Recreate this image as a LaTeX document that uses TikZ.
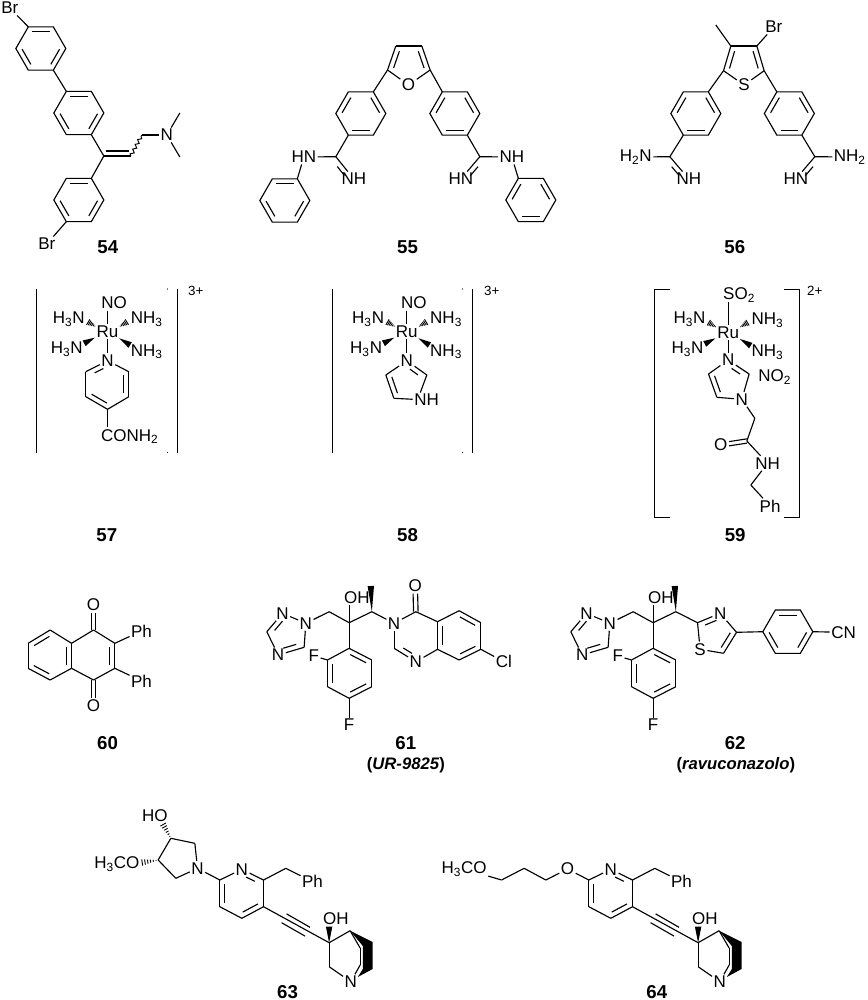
\documentclass[tikz,border=0pt]{standalone}
\usepackage{fontspec}
\setmainfont{Liberation Sans}
\usetikzlibrary{calc,decorations.pathmorphing}
\tikzstyle{atom}=[font=\fontsize{12.75}{14}\selectfont,inner sep=1pt]
\tikzstyle{bond}=[draw,line width=.85pt]
\tikzstyle{molno}=[font=\fontsize{14}{16}\selectfont\bfseries,inner sep=0pt]
\tikzstyle{molname}=[font=\fontsize{12.5}{14}\selectfont\bfseries\itshape,inner sep=0pt]
\tikzstyle{charge}=[font=\fontsize{10}{12}\selectfont,inner sep=0pt]
\tikzstyle{wavy}=[draw,line width=.7pt,decorate,decoration={snake,amplitude=1.2pt,segment length=4pt}]
% inner line of a double bond, on the right of a->b
\newcommand{\dbl}[3][.15]{\path[bond] ($(#2)!#1!(#3)!-3.8pt!90:(#3)$) -- ($(#3)!#1!(#2)!3.8pt!90:(#2)$);}
% double bond with two lines side by side
\newcommand{\pdbl}[4]{\path[bond,transform canvas={xshift=#3,yshift=#4}] (#1) -- (#2);
  \path[bond,transform canvas={xshift=-#3,yshift=-#4}] (#1) -- (#2);}
% wedges, narrow end at the first point
\newcommand{\wdg}[2]{\fill ($(#2)!2.4pt!90:(#1)$) -- ($(#2)!2.4pt!-90:(#1)$) -- (#1) -- cycle;}
\newcommand{\hsh}[2]{\foreach \t in {.12,.28,.44,.6,.76,.92} {
    \pgfmathsetmacro{\w}{\t*2.6}
    \draw[line width=.7pt] ($(#1)!\t!(#2)!\w pt!90:(#1)$) -- ($(#1)!\t!(#2)!\w pt!-90:(#1)$);}}
% bonds between named atoms
\newcommand{\bonds}[1]{\foreach \from/\into in {#1} {\path[bond] (\from) -- (\into);}}
% flat topped hexagon, corners 1..6 clockwise from top left
\newcommand{\ring}[3]{\foreach \k/\a in {1/240,2/300,3/0,4/60,5/120,6/180} {
    \coordinate (#1\k) at ({#2+25*cos(\a)},{#3+25*sin(\a)});}
  \path[bond] (#11) -- (#12) -- (#13) -- (#14) -- (#15) -- (#16) -- cycle;}
\newcommand{\ringup}[3]{\ring{#1}{#2}{#3}
  \foreach \p/\q in {1/2,3/4,5/6} {\dbl{#1\p}{#1\q}}}
\newcommand{\ringdown}[3]{\ring{#1}{#2}{#3}
  \foreach \p/\q in {2/3,4/5,6/1} {\dbl{#1\p}{#1\q}}}
\newcommand{\atoms}[1]{\foreach \pos/\name/\txt in {#1} {\node[atom] (\name) at \pos {\txt};}}
\newcommand{\points}[1]{\foreach \pos/\name in {#1} {\node[coordinate] (\name) at \pos {};}}
% Ru with its four NH3
\newcommand{\rucore}[3]{\begin{scope}[shift={(#2,#3)}]
  \atoms{{(0,0)/#1ru/Ru},
      {(-38.7,-12.7)/#1ul/H\textsubscript{3}N}, {(39.3,-12.4)/#1ur/NH\textsubscript{3}},
      {(-40.7,17.3)/#1ll/H\textsubscript{3}N}, {(39.3,20)/#1lr/NH\textsubscript{3}}}
  \points{{(-11.7,-5)/#1ha}, {(-20,-10)/#1hb}, {(11.7,-5)/#1hc}, {(20,-10)/#1hd},
      {(-12.7,6)/#1wa}, {(-23.4,11.6)/#1wb}, {(11.6,6.6)/#1wc}, {(22.6,13.3)/#1wd}}
  \hsh{#1ha}{#1hb}
  \hsh{#1hc}{#1hd}
  \wdg{#1wa}{#1wb}
  \wdg{#1wc}{#1wd}
  \end{scope}}

\begin{document}
\begin{tikzpicture}[x=.75pt,y=-.75pt]
    \fill[white] (0,0) rectangle (866,1000);

    % 54
    \ringup{aa}{40}{48.5}
    \ringup{ab}{78}{113}
    \ringup{ac}{78}{200}
    \atoms{{(9,8)/abra/Br}, {(46,244)/abrb/Br}, {(166,135)/an/N}}
    \points{{(103,156)/ava}, {(130,156)/avb}, {(141,135)/avc}, {(179,113)/amea}, {(179,157)/ameb}}
    \bonds{abra/aa1, aa4/ab1, ab4/ava, ava/ac2, ac5/abrb, ava/avb, avc/an, an/amea, an/ameb}
    \dbl[.08]{avb}{ava}
    \path[wavy] (avb) -- (avc);
    \node[molno] (lab54) at (107,247) {54};

    % 55
    \ringdown{ba}{360}{113.5}
    \ringdown{bb}{454}{113.5}
    \ringup{bc}{284}{200.5}
    \ringdown{bd}{530}{200}
    \atoms{{(407.7,85)/bo/O}, {(303,157)/bhna/HN}, {(353,179)/bnha/NH},
           {(511,157)/bnhb/NH}, {(460,179)/bhnb/HN}}
    \points{{(395,46)/bfa}, {(421,46)/bfb}, {(429.3,70)/bfc}, {(386.7,70)/bfd},
            {(335,156.7)/bca}, {(479,156.7)/bcb}}
    \bonds{bfa/bfb, bfb/bfc, bfc/bo, bo/bfd, bfd/bfa, bfd/ba2, bfc/bb1,
           ba5/bca, bca/bhna, bca/bnha, bhna/bc2,
           bb4/bcb, bcb/bnhb, bcb/bhnb, bnhb/bd1}
    \dbl{bfd}{bfa}
    \dbl{bfb}{bfc}
    \dbl[.3]{bca}{bnha}
    \dbl[.3]{bhnb}{bcb}
    \node[molno] (lab55) at (406.7,247) {55};

    % 56
    \ringdown{ca}{695}{113.5}
    \ringdown{cb}{788.5}{113.5}
    \atoms{{(743.3,85)/cs/S}, {(773,27)/cbr/Br},
           {(635,157)/chna/H\textsubscript{2}N}, {(688,179)/cnha/NH},
           {(849,157)/cnhb/NH\textsubscript{2}}, {(795,179)/chnb/HN}}
    \points{{(730,46)/cfa}, {(756,46)/cfb}, {(763.3,70.7)/cfc}, {(722.7,70.7)/cfd},
            {(715,25)/cme}, {(669,156.7)/cca}, {(814,156.7)/ccb}}
    \bonds{cfa/cfb, cfb/cfc, cfc/cs, cs/cfd, cfd/cfa, cfa/cme, cfb/cbr,
           cfd/ca2, cfc/cb1, ca5/cca, cca/chna, cca/cnha,
           cb4/ccb, ccb/cnhb, ccb/chnb}
    \dbl{cfd}{cfa}
    \dbl{cfb}{cfc}
    \dbl[.3]{cca}{cnha}
    \dbl[.3]{chnb}{ccb}
    \node[molno] (lab56) at (734,247) {56};

    % 57
    \path[bond] (36,289) -- (36,452.7) (176.7,289) -- (176.7,452.7);
    \fill (166.7,289) circle (.6) (166.7,452.4) circle (.6);
    \node[charge] (chga) at (195,291) {3+};
    \rucore{d}{106.7}{331.7}
    \atoms{{(113.3,303)/dno/NO}, {(106.7,360.7)/dn/N}, {(129,436.5)/dco/CONH\textsubscript{2}}}
    \points{{(106.7,310.7)/dtop}, {(128,371.7)/dpa}, {(128,396.7)/dpb},
            {(106.7,409.3)/dpc}, {(85,396.7)/dpd}, {(85,371.7)/dpe}, {(106.7,427)/dcc}}
    \bonds{dtop/dru, dru/dn, dn/dpa, dpa/dpb, dpb/dpc, dpc/dpd, dpd/dpe, dpe/dn, dpc/dcc}
    \dbl{dpa}{dpb}
    \dbl{dpc}{dpd}
    \dbl[.3]{dpe}{dn}
    \node[molno] (lab57) at (106,535) {57};

    % 58
    \path[bond] (331.7,289) -- (331.7,452.7) (472,289) -- (472,452.7);
    \fill (461.7,289) circle (.6) (461.7,452.4) circle (.6);
    \node[charge] (chgb) at (491,291) {3+};
    \rucore{e}{406}{331.7}
    \atoms{{(413,303)/eno/NO}, {(406,360.7)/en/N}, {(425.7,400)/enh/NH}}
    \points{{(406,310.7)/etop}, {(426,375)/eca}, {(393,398.3)/ecb}, {(385,375)/ecc}}
    \bonds{etop/eru, eru/en, en/eca, eca/enh.130, enh/ecb, ecb/ecc, ecc/en}
    \dbl[.3]{en}{eca}
    \dbl{ecb}{ecc}
    \node[molno] (lab58) at (406.7,535) {58};

    % 59
    \path[bond] (669.3,289.3) -- (654,289.3) -- (654,517.3) -- (669.3,517.3)
                (783.3,289.3) -- (798.3,289.3) -- (798.3,517.3) -- (783.3,517.3);
    \node[charge] (chgc) at (814,291) {2+};
    \rucore{f}{727.3}{332.3}
    \atoms{{(738.3,295)/fso/SO\textsubscript{2}}, {(727.3,360)/fn/N},
           {(741,399.3)/fnb/N}, {(774,376.7)/fno/NO\textsubscript{2}},
           {(720,445)/fo/O}, {(766.7,463.3)/fnh/NH}, {(769.3,506)/fph/Ph}}
    \points{{(727.3,302)/ftop}, {(748.3,374)/fca}, {(716,397.3)/fcb}, {(707.7,374)/fcc},
            {(754,418.3)/fcd}, {(746,441)/fce}, {(750,485)/fcf}}
    \bonds{ftop/fru, fru/fn, fn/fca, fca/fnb, fnb/fcb, fcb/fcc, fcc/fn,
           fnb/fcd, fcd/fce, fce/fnh, fnh/fcf, fcf/fph}
    \dbl[.3]{fn}{fca}
    \dbl{fcb}{fcc}
    \pdbl{fo}{fce}{0pt}{1.6pt}
    \node[molno] (lab59) at (734.3,535) {59};

    % 60
    \atoms{{(92.7,605)/goa/O}, {(92.7,706)/gob/O}, {(140.7,631)/gpha/Ph}, {(140.7,681)/gphb/Ph}}
    \points{{(27.3,643.3)/gaa}, {(49.3,630)/gab}, {(70.7,643.3)/gac},
            {(70.7,668.3)/gad}, {(49.3,680)/gae}, {(27.3,668.3)/gaf},
            {(92.7,630)/gba}, {(114,643.3)/gbb}, {(114,668.3)/gbc}, {(92.7,680)/gbd}}
    \bonds{gaa/gab, gab/gac, gac/gad, gad/gae, gae/gaf, gaf/gaa,
           gac/gba, gba/gbb, gbb/gbc, gbc/gbd, gbd/gad, gbb/gpha, gbc/gphb}
    \dbl{gaa}{gab}
    \dbl{gac}{gad}
    \dbl{gae}{gaf}
    \dbl{gbb}{gbc}
    \pdbl{gba}{goa}{1.7pt}{0pt}
    \pdbl{gbd}{gob}{1.7pt}{0pt}
    \node[molno] (lab60) at (106.7,742.7) {60};

    % 61 and 62 share the triazole side
    \foreach \dx/\m in {0/h,304/i} {
        \begin{scope}[shift={(\dx,0)}]
        \atoms{{(281.7,613.3)/\m na/N}, {(305,623.3)/\m nb/N}, {(277.3,655)/\m nc/N},
               {(356,598)/\m oh/OH}, {(313,656)/\m fa/F}, {(348.3,725)/\m fb/F}}
        \points{{(303.3,647.3)/\m ca}, {(266,631.7)/\m cb}, {(328.3,611.7)/\m cc},
                {(348.3,622.7)/\m cd}, {(348.3,605)/\m ce}, {(371,611.7)/\m cf}, {(370,586)/\m me},
                {(348.3,648.3)/\m pa}, {(371,660)/\m pb}, {(371,686.7)/\m pc},
                {(348.3,698.3)/\m pd}, {(326.7,686.7)/\m pe}, {(326.7,660)/\m pf}}
        \bonds{\m na/\m nb, \m nb/\m ca, \m ca/\m nc, \m nc/\m cb, \m cb/\m na, \m nb/\m cc,
               \m cc/\m cd, \m cd/\m ce, \m cd/\m cf, \m cd/\m pa, \m pa/\m pb, \m pb/\m pc,
               \m pc/\m pd, \m pd/\m pe, \m pe/\m pf, \m pf/\m pa, \m pf/\m fa, \m pd/\m fb}
        \dbl[.25]{\m ca}{\m nc}
        \dbl[.25]{\m cb}{\m na}
        \dbl{\m pa}{\m pb}
        \dbl{\m pc}{\m pd}
        \dbl{\m pe}{\m pf}
        \wdg{\m cf}{\m me}
        \end{scope}
    }

    % 61
    \atoms{{(393.3,623.3)/hnd/N}, {(414.3,586)/ho/O}, {(415,661.7)/hne/N}, {(503,661.7)/hcl/Cl}}
    \points{{(415,611.7)/hqa}, {(436.7,621.7)/hqb}, {(458.3,610.7)/hqc}, {(480,622.7)/hqd},
            {(480,649.3)/hqe}, {(458.3,660)/hqf}, {(436.7,649.3)/hqg}, {(393.3,648.3)/hqh}}
    \bonds{hcf/hnd, hnd/hqa, hqa/hqb, hqb/hqc, hqc/hqd, hqd/hqe, hqe/hqf, hqf/hqg,
           hqg/hqb, hqg/hne, hne/hqh, hqh/hnd, hqe/hcl}
    \dbl{hqc}{hqd}
    \dbl{hqe}{hqf}
    \dbl{hqg}{hqb}
    \dbl[.3]{hne}{hqh}
    \pdbl{hqa}{ho}{1.7pt}{0pt}
    \node[molno] (lab61) at (405,742.7) {61};
    \node[molname] (namea) at (405,765) {\textup{(}UR-9825\textup{)}};

    % 62
    \atoms{{(719.3,613.3)/ind/N}, {(699.3,649.3)/isu/S}, {(842.7,632.3)/icn/CN}}
    \points{{(696.7,622.7)/ita}, {(735.7,632.3)/itb}, {(722.7,653.3)/itc}}
    \ringup{ir}{787}{631.7}
    \bonds{icf/ita, ita/ind, ind/itb, itb/itc, itc/isu, isu/ita, itb/ir6, ir3/icn}
    \dbl[.25]{ita}{ind}
    \dbl{itb}{itc}
    \node[molno] (lab62) at (734.3,742.7) {62};
    \node[molname] (nameb) at (735,765) {\textup{(}ravuconazolo\textup{)}};

    % 63 and 64 share the pyridine and quinuclidine side
    \foreach \dx/\m in {0/j,369/k} {
        \begin{scope}[shift={(\dx,0)}]
        \atoms{{(241,869.3)/\m py/N}, {(311.7,881.7)/\m ph/Ph},
               {(335,919)/\m oh/OH}, {(350,981.7)/\m qn/N}}
        \points{{(219,880)/\m ca}, {(262.7,880)/\m cb}, {(262.7,906.7)/\m cc}, {(241,918.3)/\m cd},
                {(219,906.7)/\m ce}, {(285,868.3)/\m cf}, {(283.3,918.3)/\m ta}, {(306.7,931.7)/\m tb},
                {(328.3,942.7)/\m qa}, {(328.3,926.7)/\m qb}, {(349.3,930.7)/\m qc}, {(328.3,966.7)/\m qd},
                {(359.3,948)/\m qe}, {(359.3,965)/\m qf}}
        \bonds{\m ca/\m py, \m py/\m cb, \m cb/\m cc, \m cc/\m cd, \m cd/\m ce, \m ce/\m ca,
               \m cb/\m cf, \m cf/\m ph, \m cc/\m qa, \m qa/\m qc, \m qa/\m qd, \m qd/\m qn,
               \m qc/\m qe, \m qe/\m qf, \m qf/\m qn}
        \dbl{\m ce}{\m ca}
        \dbl[.3]{\m py}{\m cb}
        \dbl{\m cc}{\m cd}
        \dbl[0]{\m ta}{\m tb}
        \dbl[0]{\m tb}{\m ta}
        \wdg{\m qa}{\m qb}
        \fill (\m qc) -- (371.7,942) -- (371.7,969) -- (357,977) -- (362,969) -- (362,946) -- cycle;
        \end{scope}
    }

    % 63
    \atoms{{(154,816)/jho/HO}, {(116,864)/jme/H\textsubscript{3}CO}, {(196.7,868.3)/jna/N}}
    \points{{(194,843.3)/jra}, {(170,838.3)/jrb}, {(157.3,860)/jrc}, {(175,878.3)/jrd},
            {(161.7,823.3)/jha}, {(140,862.7)/jhb}}
    \bonds{jna/jra, jra/jrb, jrb/jrc, jrc/jrd, jrd/jna, jna/jca}
    \hsh{jrb}{jha}
    \hsh{jrc}{jhb}
    \node[molno] (lab63) at (286.7,991.7) {63};

    % 64
    \atoms{{(463.3,869)/kme/H\textsubscript{3}CO}, {(566.7,869)/ko/O}}
    \points{{(500.7,880)/kra}, {(523.3,868.3)/krb}, {(545,880)/krc}}
    \bonds{kme/kra, kra/krb, krb/krc, krc/ko, ko/kca}
    \node[molno] (lab64) at (656,991.7) {64};
\end{tikzpicture}
\end{document}
